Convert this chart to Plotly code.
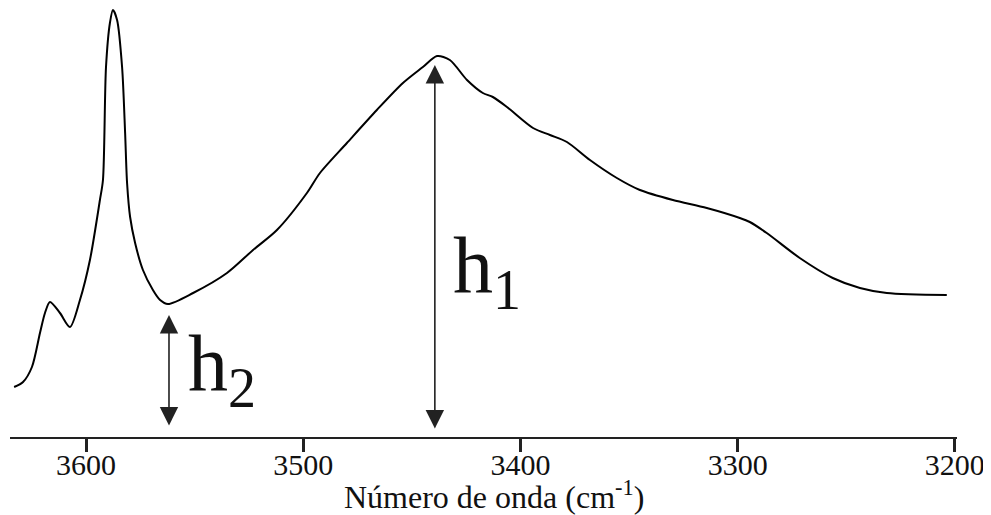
import plotly.graph_objects as go

# Wavenumber (cm^-1) and absorbance (arbitrary units)
wavenumber = [3633.1, 3629.0, 3624.9, 3621.2, 3618.9, 3616.6, 3612.0, 3607.4, 3602.8,
              3598.2, 3593.6, 3592.2, 3590.8, 3589.0, 3587.6, 3585.7, 3583.4, 3582.0,
              3581.1, 3579.7, 3577.4, 3573.8, 3569.2, 3565.9, 3562.3, 3550.7, 3535.1,
              3523.1, 3512.1, 3498.3, 3492.3, 3479.9, 3466.1, 3454.1, 3444.9, 3438.4,
              3432.5, 3424.6, 3417.3, 3412.7, 3406.2, 3394.2, 3386.4, 3378.6, 3368.0,
              3355.6, 3345.0, 3329.8, 3314.2, 3299.0, 3294.4, 3286.6, 3271.4, 3256.2,
              3243.7, 3231.3, 3203.7]
absorbance = [0.50, 0.55, 0.70, 1.04, 1.24, 1.35, 1.24, 1.10, 1.37,
              1.77, 2.37, 2.57, 3.70, 4.14, 4.27, 4.17, 3.70, 3.04,
              2.54, 2.20, 1.94, 1.67, 1.47, 1.37, 1.33, 1.44, 1.64,
              1.87, 2.07, 2.44, 2.64, 2.94, 3.27, 3.54, 3.70, 3.81,
              3.77, 3.57, 3.44, 3.40, 3.30, 3.09, 3.02, 2.95, 2.77,
              2.59, 2.47, 2.37, 2.29, 2.19, 2.15, 2.04, 1.79, 1.59,
              1.49, 1.44, 1.42]

tick_vals = [3600, 3500, 3400, 3300, 3200]
tick_text = ["3600", "3500", "3400", "3300", "3200"]
x_title = "Número de onda (cm<sup>-1</sup>)"

# height markers: (position, bottom, top)
h1_x, h1_bottom, h1_top = 3439.4, 0.07, 3.72
h2_x, h2_bottom, h2_top = 3561.8, 0.10, 1.22

FONT = "Liberation Serif"

fig = go.Figure()
fig.add_trace(go.Scatter(
    x=wavenumber, y=absorbance, mode="lines",
    line=dict(color="black", width=2, shape="spline", smoothing=0.8),
    hoverinfo="x+y", showlegend=False,
))

for xpos, y0, y1 in [(h1_x, h1_bottom, h1_top), (h2_x, h2_bottom, h2_top)]:
    fig.add_annotation(
        x=xpos, y=y1, ax=xpos, ay=y0, xref="x", yref="y", axref="x", ayref="y",
        text="", showarrow=True, arrowhead=2, arrowside="end+start",
        arrowsize=2.3, arrowwidth=1.6, arrowcolor="#222222",
    )

fig.add_annotation(x=3432, y=1.66, xref="x", yref="y", text="h<sub>1</sub>",
                   showarrow=False, xanchor="left", yanchor="middle",
                   font=dict(family=FONT, size=80, color="#111111"))
fig.add_annotation(x=3554, y=0.68, xref="x", yref="y", text="h<sub>2</sub>",
                   showarrow=False, xanchor="left", yanchor="middle",
                   font=dict(family=FONT, size=80, color="#111111"))

# x-axis title, placed as in the reference (slightly right of centre)
fig.add_annotation(x=0.511, y=0, xref="paper", yref="paper", yshift=-58,
                   text=x_title, showarrow=False,
                   xanchor="center", yanchor="middle",
                   font=dict(family=FONT, size=32, color="#111111"))

# The page body adds an 8px margin, so the figure is sized and padded to
# place the plot area where the reference has it.
fig.update_layout(
    width=983, height=507,
    margin=dict(l=2, r=34, t=0, b=78),
    paper_bgcolor="white", plot_bgcolor="white",
    font=dict(family=FONT, color="#111111"),
    xaxis=dict(
        range=[3635, 3199], showgrid=False, zeroline=False,
        showline=True, linecolor="#222222", linewidth=2,
        ticks="", tickvals=tick_vals, ticktext=tick_text,
        tickfont=dict(family=FONT, size=30, color="#111111"),
        minor=dict(ticks="outside", ticklen=13, tickwidth=3,
                   tickcolor="#222222", tickvals=tick_vals, showgrid=False),
    ),
    yaxis=dict(range=[0, 4.29], visible=False),
)

fig.write_html("out.html")
